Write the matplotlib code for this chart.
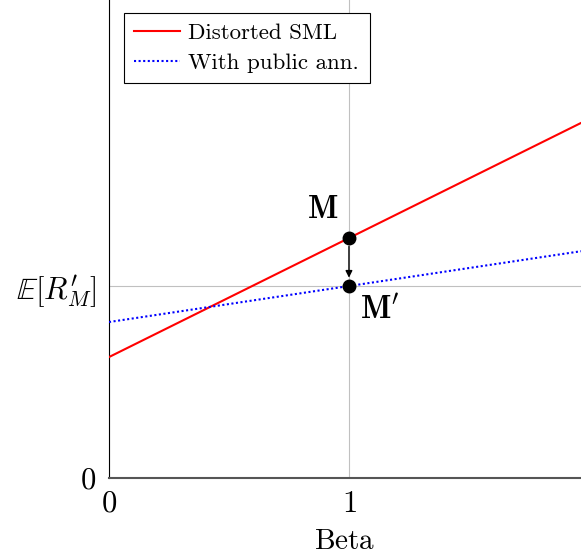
import matplotlib
matplotlib.use("Agg")
import matplotlib.pyplot as plt
import numpy as np

plt.rcParams['mathtext.fontset'] = 'cm'
plt.rcParams['font.family'] = 'serif'
plt.rcParams['font.serif'] = ['cmr10', 'DejaVu Serif']
plt.rcParams['axes.formatter.use_mathtext'] = True

# data (y in units of E[R'_M])
beta = [0.0, 1.967]
sml_intercept = 0.63
sml_slope = 0.62
pub_intercept = 0.8125
pub_slope = 0.1875
erm = 1.0
xticks = [0, 1]
xticklabels = [r'$0$', r'$1$']
yticks = [0, erm]
yticklabels = [r'$0$', r"$\mathbb{E}[R_M^{\prime}]$"]

fig = plt.figure(figsize=(5.81, 5.60), dpi=100)
ax = fig.add_axes([109/581, 82/560, 1 - 109/581, 1 - 82/560])

b = np.array(beta)
ax.plot(b, sml_intercept + sml_slope * b, color='red', lw=1.5, label='Distorted SML', zorder=3)
ax.plot(b, pub_intercept + pub_slope * b, color='blue', lw=1.5, ls=(0, (1, 1.2)),
        label='With public ann.', zorder=3)

mx, my = 1.0, sml_intercept + sml_slope * 1.0
px_, py_ = 1.0, pub_intercept + pub_slope * 1.0
ax.plot([mx, px_], [my, py_], 'o', color='black', ms=9, zorder=5)
ax.annotate('', xy=(px_, py_), xytext=(mx, my),
            arrowprops=dict(arrowstyle='-|>', color='black', lw=1.0,
                            shrinkA=6, shrinkB=6, mutation_scale=10), zorder=4)
ax.text(mx - 0.045, my + 0.075, r'$\mathbf{M}$', fontsize=23, ha='right', va='bottom')
ax.text(px_ + 0.045, py_ - 0.05, r"$\mathbf{M'}$", fontsize=23, ha='left', va='top')

ax.set_xlim(0, 1.967)
ax.set_ylim(0, 2.49)
ax.set_xticks(xticks)
ax.set_xticklabels(xticklabels, fontsize=22)
ax.set_yticks(yticks)
ax.set_yticklabels(yticklabels, fontsize=22)
ax.tick_params(axis='x', length=0, pad=9)
ax.tick_params(axis='y', length=0, pad=9)
ax.grid(True, color='#c0c0c0', lw=0.8, zorder=0)
ax.set_axisbelow(True)
for s in ['top', 'right']:
    ax.spines[s].set_visible(False)
ax.spines['left'].set_color('black')
ax.spines['bottom'].set_color('#555555')
ax.spines['bottom'].set_linewidth(1.5)
ax.set_xlabel(r'$\mathrm{Beta}$', fontsize=21, labelpad=8)

leg = ax.legend(loc='upper left', bbox_to_anchor=(0.032, 0.973), fontsize=16.5,
                fancybox=False, edgecolor='black', framealpha=1, borderaxespad=0,
                handlelength=2.0, handletextpad=0.36, borderpad=0.45, labelspacing=0.42)
leg.get_frame().set_linewidth(0.8)

fig.savefig('out.png', dpi=100)
